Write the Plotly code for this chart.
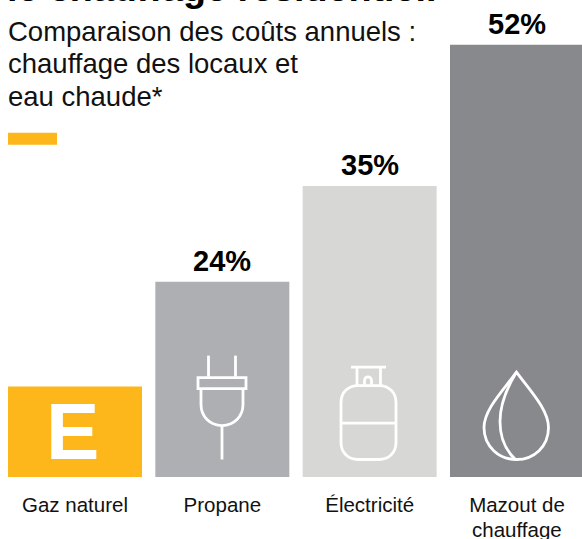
import plotly.graph_objects as go

categories = ["Gaz naturel", "Propane", "Électricité", "Mazout de"]
second_line = "chauffage"
bar_values = [10.9, 23.5, 35, 52]
value_labels = ["", "24%", "35%", "52%"]
bar_colors = ["#FDB71A", "#AEAFB3", "#D7D7D5", "#88898D"]
title_text = "le chauffage résidentiel."
subtitle_lines = ["Comparaison des coûts annuels :", "chauffage des locaux et", "eau chaude*"]

W, H = 582, 539
BASE = 477.5
PITCH = 147.33
FONT = "Liberation Sans, Arial, sans-serif"
INK = "#111111"

def X(p): return p / W
def Y(p): return (BASE - p) / BASE

def path(cmds):
    out = []
    for c in cmds:
        if isinstance(c, str):
            out.append(c)
        else:
            out.append(f"{X(c[0]):.5f},{Y(c[1]):.5f}")
    return " ".join(out)

def icon(cmds):
    return dict(type="path", xref="paper", yref="paper", path=path(cmds),
                line=dict(color="white", width=2.8), fillcolor="rgba(0,0,0,0)", layer="above")

fig = go.Figure(go.Bar(x=list(range(4)), y=bar_values, width=134 / PITCH,
                       marker=dict(color=bar_colors, line=dict(width=0)),
                       hoverinfo="skip"))

shapes = [
    dict(type="rect", xref="paper", yref="paper", x0=X(8), x1=X(57), y0=Y(145), y1=Y(133),
         fillcolor="#FDB71A", line=dict(width=0)),
    # plug
    icon(["M", (208.5, 356), "L", (208.5, 377)]),
    icon(["M", (235.5, 356), "L", (235.5, 377)]),
    icon(["M", (198, 378), "L", (246, 378), "L", (246, 389), "L", (198, 389), "Z"]),
    icon(["M", (201, 389), "L", (201, 405), "C", (201, 417), (210, 426), (222, 426),
          "C", (234, 426), (243, 417), (243, 405), "L", (243, 389)]),
    icon(["M", (222, 426), "L", (222, 460)]),
    # cylinder
    icon(["M", (351, 367.5), "L", (386, 367.5)]),
    icon(["M", (357, 367.5), "L", (357, 386)]),
    icon(["M", (380.5, 367.5), "L", (380.5, 386)]),
    icon(["M", (364.5, 386), "L", (364.5, 381), "C", (364.5, 376), (371.5, 376), (371.5, 381), "L", (371.5, 386)]),
    icon(["M", (358, 386), "L", (379, 386), "C", (389, 386), (396, 393), (396, 403),
          "L", (396, 443), "C", (396, 453), (389, 460), (379, 460),
          "L", (358, 460), "C", (348, 460), (341, 453), (341, 443),
          "L", (341, 403), "C", (341, 393), (348, 386), (358, 386), "Z"]),
    icon(["M", (341, 423.5), "L", (396, 423.5)]),
    # drop
    icon(["M", (516.5, 372.5), "C", (503, 391), (484, 410), (484, 428),
          "C", (484, 447), (499, 460), (516.5, 460),
          "C", (534, 460), (548.5, 447), (548.5, 428),
          "C", (548.5, 410), (530, 391), (516.5, 372.5), "Z"]),
    icon(["M", (516.5, 372.5), "C", (507, 388), (500, 405), (500, 422),
          "C", (500, 438), (506, 451), (515, 459.5)]),
]

annotations = [
    dict(text=title_text, x=X(5), y=Y(-12), xref="paper", yref="paper", xanchor="left", yanchor="middle",
         showarrow=False, font=dict(family=FONT, size=37.7, color="#000000", weight="bold")),
    dict(text="E", x=0, y=0, xref="x", yref="paper", yshift=45.5, xshift=-3, xanchor="center", yanchor="middle", showarrow=False,
         font=dict(family=FONT, size=80, color="white", weight="bold")),
    dict(text=second_line, x=3, y=Y(530.5), xref="x", yref="paper", yanchor="middle", showarrow=False,
         font=dict(family=FONT, size=20.5, color=INK)),
]
for line, py in zip(subtitle_lines, [32, 64, 97]):
    annotations.append(dict(text=line, x=X(5.5), y=Y(py), xref="paper", yref="paper", xanchor="left",
                            yanchor="middle", showarrow=False, font=dict(family=FONT, size=27.5, color=INK)))
for i, (v, t) in enumerate(zip(bar_values, value_labels)):
    if t:
        annotations.append(dict(text=t, x=i, y=v, xref="x", yref="y", yanchor="bottom", yshift=3, showarrow=False,
                                font=dict(family=FONT, size=29, color="#000000", weight="bold")))

fig.update_layout(
    width=W, height=H, autosize=False, showlegend=False,
    margin=dict(l=0, r=0, t=0, b=H - BASE, pad=0),
    paper_bgcolor="white", plot_bgcolor="white",
    xaxis=dict(range=[-75 / PITCH, (W - 75) / PITCH], tickvals=list(range(4)), ticktext=categories,
               showgrid=False, zeroline=False, showline=False, ticks="", ticklabelstandoff=13,
               tickfont=dict(family=FONT, size=20.5, color=INK), fixedrange=True),
    yaxis=dict(range=[0, BASE / 8.32], visible=False, fixedrange=True),
    shapes=shapes, annotations=annotations,
)
fig.write_html("out.html", config=dict(displayModeBar=False),
               post_script="document.body.style.margin='0';")
